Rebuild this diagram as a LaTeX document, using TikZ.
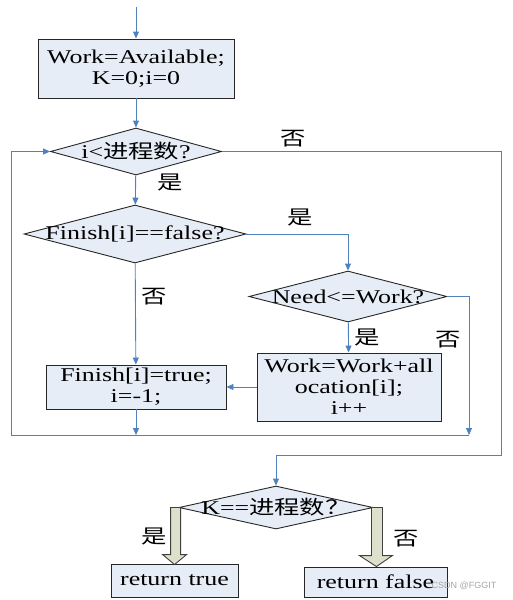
\documentclass[tikz,border=0pt]{standalone}
\usepackage{fontspec}
\setmainfont{Liberation Serif}[FakeStretch=1.33]
\newfontfamily\cjk{Noto Sans CJK SC}[FakeStretch=1.3]
\newfontfamily\wmfont{Liberation Sans}
\usetikzlibrary{shapes.geometric,arrows.meta,calc}
\definecolor{boxfill}{HTML}{E6EDF7}
\definecolor{linkblue}{HTML}{4F81BD}
\definecolor{arrowfill}{HTML}{DDE0CA}
\begin{document}
\begin{tikzpicture}[x=1pt,y=-1pt,
  every node/.style={font=\fontsize{19.5}{21}\selectfont},
  procbox/.style={draw=black!85, fill=boxfill, line width=0.9pt, inner sep=0pt, align=center},
  decision/.style={diamond, draw=black!85, fill=boxfill, line width=0.9pt, inner sep=0pt},
  link/.style={draw=linkblue, line width=0.9pt},
  linkarrow/.style={link, -{Triangle[length=7pt,width=6pt]}},
  lbl/.style={font=\cjk\fontsize{19.5}{21}\selectfont, inner sep=0pt},
  blockarrow/.style={draw=black!75, fill=arrowfill, line width=0.9pt, line join=miter}]
\useasboundingbox (0,0) rectangle (513,600);

% nodes
\node[procbox, minimum width=196pt, minimum height=59pt] (b1) at (136,68.5) {Work=Available;\\K=0;i=0};
\node[decision, minimum width=171pt, minimum height=47pt] (d1) at (136,151.5) {\makebox[0pt]{i<{\cjk 进程数}?}};
\node[decision, minimum width=222pt, minimum height=58pt] (d2) at (135,234) {\makebox[0pt]{Finish[i]==false?}};
\node[decision, minimum width=198pt, minimum height=51pt] (d3) at (348,296.5) {\makebox[0pt]{Need<=Work?}};
\node[procbox, minimum width=180pt, minimum height=44pt] (b2) at (136,387) {Finish[i]=true;\\i=-1;};
\node[procbox, minimum width=184pt, minimum height=68pt] (b3) at (349,387) {Work=Work+all\\ocation[i];\\i++};
\node[decision, minimum width=194pt, minimum height=43pt] (d4) at (276,507.5) {\makebox[0pt]{K=={\cjk 进程数？}}};
\node[procbox, minimum width=127pt, minimum height=33pt] (t1) at (174.5,580.5) {return true};
\node[procbox, minimum width=143pt, minimum height=30pt] (t2) at (375.5,582) {return false};

% helper coordinates
\coordinate (start) at (136,7);
\coordinate (rx) at (469,435);
\coordinate (lx) at (11,435);
\coordinate (fx) at (501,455);

% connectors
\draw[linkarrow] (start) -- (b1);
\draw[linkarrow] (b1) -- (d1);
\draw[linkarrow] (d1) -- (d2);
\draw[linkarrow] (d2.east) -| (d3.north);
\draw[linkarrow] (d2) -- (b2);
\draw[linkarrow] (d3) -- (b3);
\draw[linkarrow] (b3) -- (b2);
\draw[linkarrow] (d3.east) -| (rx);
\draw[linkarrow] (b2) -- (b2.south |- lx);
\draw[link] (rx) -- (lx);
\draw[linkarrow] (lx) |- (d1.west);
\draw[linkarrow] (d1.east) -| (fx) -| (d4.north);

% block arrows
\draw[blockarrow] let \p1=(d4.west), \p2=(t1.north) in
  (\x1-8pt,\y1) -- (\x1+2pt,\y1) -- (\x1+2pt,\y2+9pt) -- (\x1+8pt,\y2+9pt)
  -- (\x1-4pt,\y2-1pt) -- (\x1-16pt,\y2+9pt) -- (\x1-8pt,\y2+9pt) -- cycle;
\draw[blockarrow] let \p1=(d4.east), \p2=(t2.north) in
  (\x1-2pt,\y1) -- (\x1+9pt,\y1) -- (\x1+9pt,\y2+11pt) -- (\x1+19pt,\y2+11pt)
  -- (\x1+3pt,\y2) -- (\x1-14pt,\y2+11pt) -- (\x1-2pt,\y2+11pt) -- cycle;

% labels
\node[lbl] (l1) at (293,139) {否};
\node[lbl] (l2) at (170,182) {是};
\node[lbl] (l3) at (300,217) {是};
\node[lbl] (l4) at (154,297) {否};
\node[lbl] (l5) at (367,337) {是};
\node[lbl] (l6) at (448,340) {否};
\node[lbl] (l7) at (154,536) {是};
\node[lbl] (l8) at (406,539) {否};

% watermark
\node[font=\wmfont\fontsize{9}{10}\selectfont, text=gray!70, inner sep=0pt] (wm) at (464,586) {CSDN @FGGIT};
\end{tikzpicture}
\end{document}
